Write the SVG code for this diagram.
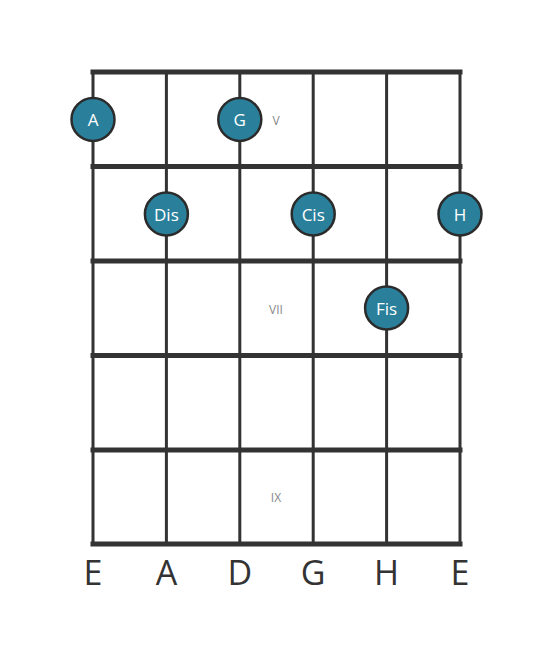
<svg xmlns="http://www.w3.org/2000/svg" width="553" height="656" viewBox="0 0 553 656">
<style>
.fret{stroke:#333;stroke-width:5;stroke-linecap:square}
.str{stroke:#333;stroke-width:3}
.note circle{fill:#2a7f9b;stroke:#2b2b2b;stroke-width:2.5}
.note text{fill:#fff;font-family:"Open Sans",sans-serif;font-size:17px;text-anchor:middle;dominant-baseline:central}
.pos{fill:#888;font-family:"Open Sans",sans-serif;font-size:12px;text-anchor:middle;dominant-baseline:central}
.tun{fill:#333;font-family:"Open Sans",sans-serif;font-size:34px;text-anchor:middle}
</style>
<rect width="553" height="656" fill="#fff"/>
<g id="strings">
<line class="str" x1="93" y1="72" x2="93" y2="544"/>
<line class="str" x1="166.4" y1="72" x2="166.4" y2="544"/>
<line class="str" x1="239.8" y1="72" x2="239.8" y2="544"/>
<line class="str" x1="313.2" y1="72" x2="313.2" y2="544"/>
<line class="str" x1="386.6" y1="72" x2="386.6" y2="544"/>
<line class="str" x1="460" y1="72" x2="460" y2="544"/>
</g>
<g id="frets">
<line class="fret" x1="93" y1="72" x2="460" y2="72"/>
<line class="fret" x1="93" y1="166.5" x2="460" y2="166.5"/>
<line class="fret" x1="93" y1="261" x2="460" y2="261"/>
<line class="fret" x1="93" y1="355.5" x2="460" y2="355.5"/>
<line class="fret" x1="93" y1="450" x2="460" y2="450"/>
<line class="fret" x1="93" y1="544" x2="460" y2="544"/>
</g>
<g id="positions">
<text class="pos" x="276" y="120">V</text>
<text class="pos" x="276" y="309">VII</text>
<text class="pos" x="276" y="497">IX</text>
</g>
<g id="note-A" class="note"><circle cx="93" cy="119.5" r="21.5"/><text x="93" y="119.5">A</text></g>
<g id="note-G" class="note"><circle cx="239.8" cy="119.5" r="21.5"/><text x="239.8" y="119.5">G</text></g>
<g id="note-Dis" class="note"><circle cx="166.4" cy="214" r="21.5"/><text x="166.4" y="214">Dis</text></g>
<g id="note-Cis" class="note"><circle cx="313.2" cy="214" r="21.5"/><text x="313.2" y="214">Cis</text></g>
<g id="note-H" class="note"><circle cx="460" cy="214" r="21.5"/><text x="460" y="214">H</text></g>
<g id="note-Fis" class="note"><circle cx="386.6" cy="308" r="21.5"/><text x="386.6" y="308">Fis</text></g>
<g id="tuning">
<text class="tun" x="93" y="585">E</text>
<text class="tun" x="166.4" y="585">A</text>
<text class="tun" x="239.8" y="585">D</text>
<text class="tun" x="313.2" y="585">G</text>
<text class="tun" x="386.6" y="585">H</text>
<text class="tun" x="460" y="585">E</text>
</g>
</svg>
